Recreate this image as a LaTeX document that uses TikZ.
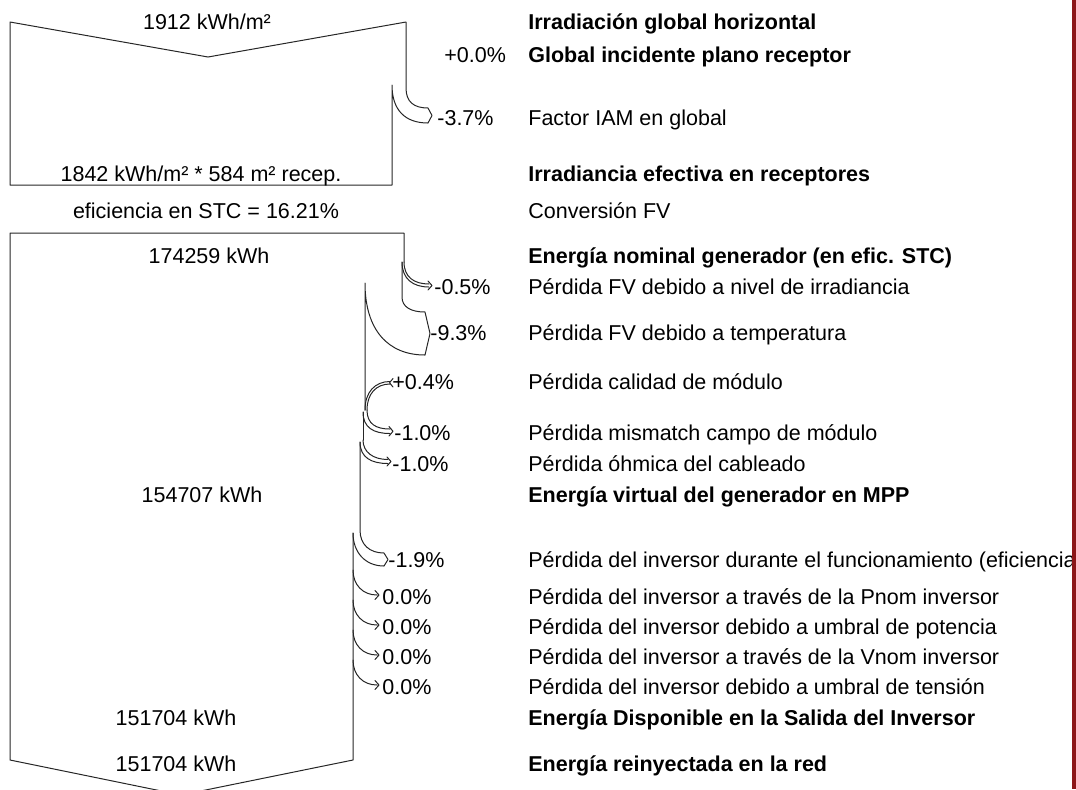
\documentclass[tikz,border=0pt]{standalone}
\usepackage{fontspec}
\setmainfont{Liberation Sans}
\definecolor{rojoborde}{RGB}{140,22,24}
\begin{document}
\begin{tikzpicture}[x=0.5pt,y=-0.5pt,line join=round,line cap=round,font=\fontsize{10.75}{13}\selectfont,
	flujo/.style={black!85,line width=0.5pt},
	valor/.style={anchor=base,inner sep=0pt},
	texto/.style={anchor=base west,inner sep=0pt}]
	\useasboundingbox (0,0) rectangle (1076,789);
	\path
	(10,22) coordinate (A1)
	(208,57) coordinate (V1)
	(406,22) coordinate (A2)
	(10,185) coordinate (B1)
	(392,185) coordinate (B2)
	(10,233) coordinate (C1)
	(404,233) coordinate (C2)
	(10,760) coordinate (D1)
	(181,795) coordinate (V2)
	(353,760) coordinate (D2)
	;
	\draw[flujo] (A2)--(V1)--(A1)--(B1)--(B2)--(392,85) .. controls (392,110) and (405,123) .. (428,123)--(432,115.5)--(428,108) .. controls (414,108) and (406,102) .. (406,88)--(A2);
	\draw[flujo] (404,262)--(C2)--(C1)--(D1)--(V2)--(D2)--(353,533);
	\draw[flujo] (404,262) .. controls (404,277) and (414,284) .. (429,284);
	\draw[flujo] (402,262) .. controls (402,279) and (413,287) .. (429,287);
	\draw[flujo] (428,281)--(432,285.5)--(428,290);
	\draw[flujo] (402,262)--(402,297) .. controls (402,307) and (411,312) .. (425,312)--(430,333.5)--(425,355) .. controls (388,355) and (365,330) .. (365,283)--(365,410);
	\draw[flujo] (365,410) .. controls (365,392) and (375,381.5) .. (390,381.5);
	\draw[flujo] (367,410) .. controls (367,394) and (376,384) .. (390,384);
	\draw[flujo] (393,378.5)--(389.5,382.75)--(393,387);
	\draw[flujo] (367,410) .. controls (367,424) and (376,429) .. (390,429);
	\draw[flujo] (363,412) .. controls (363,428) and (374,433.5) .. (390,433.5);
	\draw[flujo] (389,426.5)--(393,431.25)--(389,436);
	\draw[flujo] (363,412)--(363,440);
	\draw[flujo] (363,440) .. controls (363,452) and (373,459.5) .. (388,459.5);
	\draw[flujo] (360,442) .. controls (360,458) and (372,463.5) .. (388,463.5);
	\draw[flujo] (387,457)--(391,461.5)--(387,466);
	\draw[flujo] (360,442)--(360,530) .. controls (360,545) and (370,553) .. (384,553)--(388,559.5)--(384,566) .. controls (365,566) and (353,552) .. (353,533);
	\foreach \y in {597,627,657,687}
	\draw[flujo] (353,\y-27) .. controls (353,\y-12) and (363,\y-2) .. (377,\y-2) (375,\y-6.5)--(379,\y-2)--(375,\y+2.5);
	\foreach \x/\y/\t [count=\i] in {207/22/{1912 kWh/m²},201/174/{1842 kWh/m² * 584 m² recep.},206/211/{eficiencia en STC = 16.21\%},209/256/174259 kWh,202/495/154707 kWh,176/718/151704 kWh,176/764/151704 kWh}
	\node[valor] (v\i) at (\x,\y+7) {\t};
	\foreach \x/\y/\t [count=\i] in {444/55/+0.0\%,437/118/-3.7\%,434/287/-0.5\%,430/333/-9.3\%,392/382/+0.4\%,394/433/-1.0\%,392/464/-1.0\%,388/560/-1.9\%,382/597/0.0\%,382/627/0.0\%,382/657/0.0\%,382/687/0.0\%}
	\node[texto] (p\i) at (\x,\y+7) {\t};
	\foreach \y/\t [count=\i] in {22/Irradiación global horizontal,55/Global incidente plano receptor,174/Irradiancia efectiva en receptores,256/Energía nominal generador (en efic. STC),495/Energía virtual del generador en MPP,718/Energía Disponible en la Salida del Inversor,764/Energía reinyectada en la red}
	\node[texto] (b\i) at (528,\y+7) {\bfseries\t};
	\foreach \y/\t [count=\i] in {118/Factor IAM en global,211/Conversión FV,287/Pérdida FV debido a nivel de irradiancia,333/Pérdida FV debido a temperatura,382/Pérdida calidad de módulo,433/Pérdida mismatch campo de módulo,464/Pérdida óhmica del cableado,560/Pérdida del inversor durante el funcionamiento (eficiencia),597/Pérdida del inversor a través de la Pnom inversor,627/Pérdida del inversor debido a umbral de potencia,657/Pérdida del inversor a través de la Vnom inversor,687/Pérdida del inversor debido a umbral de tensión}
	\node[texto] (n\i) at (528,\y+7) {\t};
	\fill[rojoborde] (1072,0) rectangle (1076,789);
\end{tikzpicture}
\end{document}
